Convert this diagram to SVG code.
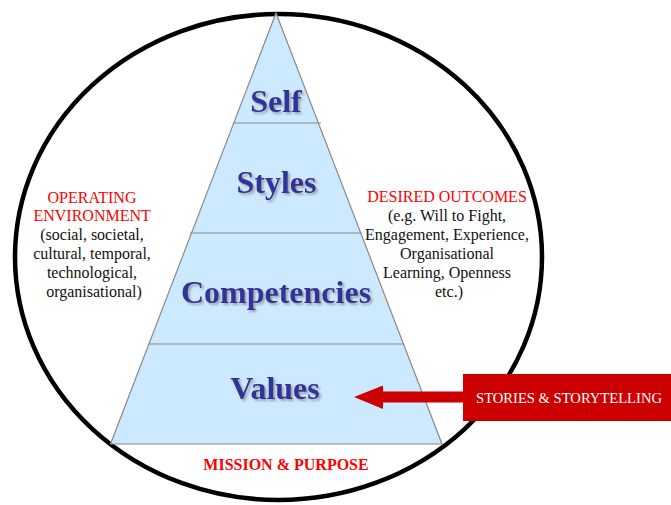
<svg xmlns="http://www.w3.org/2000/svg" width="671" height="505" viewBox="0 0 671 505">
  <style>
    .tier { font-family: "Liberation Serif", "Times New Roman", serif; font-weight: bold; font-size: 32px; text-anchor: middle; fill: #333399; filter: url(#shadow); }
    .side { font-family: "Liberation Serif", "Times New Roman", serif; font-size: 16px; text-anchor: middle; fill: #111111; }
    .red { fill: #ff0000; }
    .divider { stroke: #8a8a8a; stroke-width: 1.2; }
  </style>
  <defs>
    <filter id="shadow" x="-10%" y="-20%" width="125%" height="150%">
      <feGaussianBlur in="SourceAlpha" stdDeviation="0.8" result="b"/>
      <feOffset in="b" dx="2" dy="2" result="o"/>
      <feFlood flood-color="#8c8c8c" flood-opacity="0.75"/>
      <feComposite in2="o" operator="in" result="s"/>
      <feMerge>
        <feMergeNode in="s"/>
        <feMergeNode in="SourceGraphic"/>
      </feMerge>
    </filter>
  </defs>
  <rect width="671" height="505" fill="#ffffff"/>

  <g id="boundary">
    <ellipse cx="278.5" cy="257" rx="263.5" ry="243" fill="none" stroke="#000000" stroke-width="4.5"/>
  </g>

  <g id="pyramid">
    <polygon points="276,13 442,444 110.5,444" fill="#cce9ff" stroke="#8a8a8a" stroke-width="1.2"/>
    <line class="divider" x1="233" y1="123" x2="321" y2="123"/>
    <line class="divider" x1="190" y1="233" x2="362" y2="233"/>
    <line class="divider" x1="149" y1="344" x2="404" y2="344"/>
  </g>

  <g id="self">
    <text class="tier" x="276" y="112">Self</text>
  </g>
  <g id="styles">
    <text class="tier" x="276.5" y="193">Styles</text>
  </g>
  <g id="competencies">
    <text class="tier" x="276" y="303">Competencies</text>
  </g>
  <g id="values">
    <text class="tier" x="275" y="399">Values</text>
  </g>

  <g id="operating-environment">
    <text class="side" x="94">
      <tspan class="red" x="94" y="202.5">OPERATING</tspan>
      <tspan class="red" x="94" y="221">ENVIRONMENT</tspan>
      <tspan x="94" y="240">(social, societal,</tspan>
      <tspan x="94" y="259">cultural, temporal,</tspan>
      <tspan x="94" y="278">technological,</tspan>
      <tspan x="94" y="297">organisational)</tspan>
    </text>
  </g>

  <g id="desired-outcomes">
    <text class="side" x="449">
      <tspan class="red" x="449" y="202">DESIRED OUTCOMES</tspan>
      <tspan x="449" y="221">(e.g. Will to Fight,</tspan>
      <tspan x="449" y="240">Engagement, Experience,</tspan>
      <tspan x="449" y="259">Organisational</tspan>
      <tspan x="449" y="278">Learning, Openness</tspan>
      <tspan x="449" y="297">etc.)</tspan>
    </text>
  </g>

  <g id="mission-purpose">
    <text x="286" y="469.5" font-family="Liberation Serif, Times New Roman, serif" font-weight="bold" font-size="16" text-anchor="middle" fill="#ff0000">MISSION &amp; PURPOSE</text>
  </g>

  <g id="stories">
    <rect x="463" y="374" width="210" height="47" fill="#cc0000"/>
    <text x="569" y="403" font-family="Liberation Serif, Times New Roman, serif" font-size="14.6" text-anchor="middle" fill="#ffffff">STORIES &amp; STORYTELLING</text>
  </g>

  <g id="connectors">
    <polygon points="464,391.5 383,391.5 383,385.5 354,397 383,409 383,402.5 464,402.5" fill="#cc0000"/>
  </g>
</svg>
